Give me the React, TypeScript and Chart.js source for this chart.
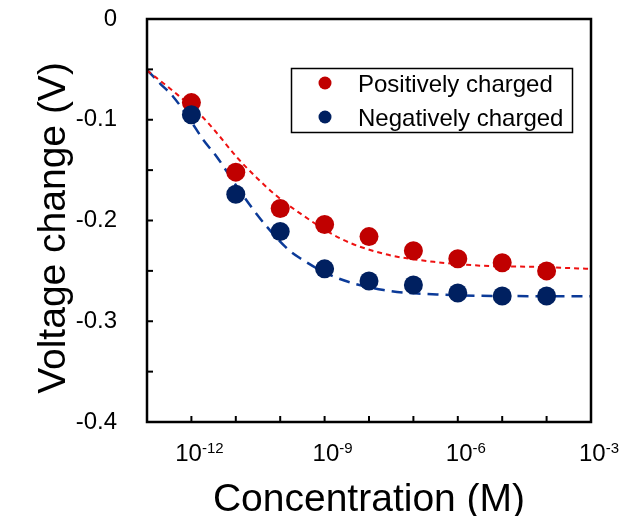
import React, { useEffect, useRef } from 'react';
import { Chart, registerables } from 'chart.js';

Chart.register(...registerables);

// ---- data ----
const concentrations = [1e-12, 1e-11, 1e-10, 1e-9, 1e-8, 1e-7, 1e-6, 1e-5, 1e-4];
const positiveValues = [-0.083, -0.152, -0.188, -0.204, -0.216, -0.230, -0.238, -0.242, -0.250];
const negativeValues = [-0.095, -0.174, -0.211, -0.248, -0.260, -0.264, -0.272, -0.275, -0.275];

// fitted curves (log10 of concentration, value)
const positiveFitExponents = [-13, -12.4, -11.8, -11.43, -10.98, -10.52, -10.07, -9.55, -8.64, -7.67, -6.54, -5.41, -4.28, -3];
const positiveFitValues = [-0.051, -0.072, -0.095, -0.113, -0.137, -0.158, -0.176, -0.193, -0.218, -0.233, -0.241, -0.245, -0.246, -0.248];
const negativeFitExponents = [-13, -12.71, -12.41, -12.03, -11.73, -11.43, -10.98, -10.6, -10.3, -9.85, -9.55, -8.79, -7.67, -6.16, -5.03, -3];
const negativeFitValues = [-0.0506, -0.0638, -0.0771, -0.1002, -0.1201, -0.1367, -0.166, -0.1896, -0.2062, -0.2276, -0.2375, -0.2558, -0.269, -0.2739, -0.2749, -0.2752];

const seriesLabels = ['Positively charged', 'Negatively charged'];
const xTickExponents = [-12, -11, -10, -9, -8, -7, -6, -5, -4];
const xLabelExponents = [-12, -9, -6, -3];
const yMinorTicks = [-0.05, -0.15, -0.25, -0.35];
const xTitle = 'Concentration (M)';
const yTitle = 'Voltage change (V)';

const FONT = "'Liberation Sans', Arial, sans-serif";
const RED = '#C00000';
const BLUE = '#002060';
const RED_LINE = '#EE1111';
const BLUE_LINE = '#0B3A98';

const decorPlugin = {
  id: 'decor',
  afterDraw(chart: any) {
    const ctx = chart.ctx as CanvasRenderingContext2D;
    const { left, right, top, bottom } = chart.chartArea;
    const xs = chart.scales.x;
    const ys = chart.scales.y;
    ctx.save();
    // frame
    ctx.strokeStyle = '#000';
    ctx.lineWidth = 2.5;
    ctx.strokeRect(left, top, right - left, bottom - top);
    // y ticks (inward)
    ctx.lineWidth = 2;
    ys.ticks.forEach((t: any) => {
      const y = ys.getPixelForValue(t.value);
      ctx.beginPath();
      ctx.moveTo(left, y);
      ctx.lineTo(left + 6, y);
      ctx.stroke();
    });
    yMinorTicks.forEach((v) => {
      const y = ys.getPixelForValue(v);
      ctx.beginPath();
      ctx.moveTo(left, y);
      ctx.lineTo(left + 6, y);
      ctx.stroke();
    });
    // x ticks (inward)
    xTickExponents.forEach((e) => {
      const x = xs.getPixelForValue(Math.pow(10, e));
      ctx.beginPath();
      ctx.moveTo(x, bottom);
      ctx.lineTo(x, bottom - 6);
      ctx.stroke();
    });
    // x tick labels with superscripts
    ctx.fillStyle = '#000';
    ctx.textBaseline = 'alphabetic';
    ctx.textAlign = 'left';
    xLabelExponents.forEach((e) => {
      const x = xs.getPixelForValue(Math.pow(10, e));
      ctx.font = `24px ${FONT}`;
      const base = '10';
      const bw = ctx.measureText(base).width;
      ctx.font = `15px ${FONT}`;
      const sup = String(e);
      const sw = ctx.measureText(sup).width;
      const start = x + 8 - (bw + sw) / 2;
      ctx.font = `24px ${FONT}`;
      ctx.fillText(base, start, 461);
      ctx.font = `15px ${FONT}`;
      ctx.fillText(sup, start + bw, 453);
    });
    // axis titles
    ctx.font = `39px ${FONT}`;
    ctx.textAlign = 'center';
    ctx.fillText(xTitle, (left + right) / 2, 511);
    ctx.save();
    ctx.translate(65, 228);
    ctx.rotate(-Math.PI / 2);
    ctx.fillText(yTitle, 0, 0);
    ctx.restore();
    // legend
    ctx.lineWidth = 1.5;
    ctx.strokeStyle = '#000';
    ctx.strokeRect(291.5, 68.5, 281, 64);
    const entries = [
      { label: seriesLabels[0], color: RED, y: 83 },
      { label: seriesLabels[1], color: BLUE, y: 117 },
    ];
    ctx.font = `24px ${FONT}`;
    ctx.textAlign = 'left';
    entries.forEach((en) => {
      ctx.fillStyle = en.color;
      ctx.beginPath();
      ctx.arc(325, en.y, 6.5, 0, Math.PI * 2);
      ctx.fill();
      ctx.fillStyle = '#000';
      ctx.fillText(en.label, 358, en.y + 8.6);
    });
    ctx.restore();
  },
};

export default function App() {
  const canvasRef = useRef<HTMLCanvasElement | null>(null);
  useEffect(() => {
    if (!canvasRef.current) return;
    const toPts = (xs: number[], ys: number[]) => xs.map((x, i) => ({ x, y: ys[i] }));
    const toFit = (es: number[], ys: number[]) => es.map((e, i) => ({ x: Math.pow(10, e), y: ys[i] }));
    const chart = new Chart(canvasRef.current, {
      type: 'scatter',
      data: {
        datasets: [
          {
            label: seriesLabels[1],
            data: toPts(concentrations, negativeValues),
            backgroundColor: BLUE,
            borderColor: BLUE,
            pointRadius: 9.5,
            pointHoverRadius: 9.5,
            pointBorderWidth: 0,
            showLine: false,
            order: 0,
          },
          {
            label: seriesLabels[0],
            data: toPts(concentrations, positiveValues),
            backgroundColor: RED,
            borderColor: RED,
            pointRadius: 9.5,
            pointHoverRadius: 9.5,
            pointBorderWidth: 0,
            showLine: false,
            order: 1,
          },
          {
            label: 'Positive fit',
            data: toFit(positiveFitExponents, positiveFitValues),
            borderColor: RED_LINE,
            borderWidth: 2,
            borderDash: [5, 4],
            pointRadius: 0,
            showLine: true,
            cubicInterpolationMode: 'monotone',
            order: 2,
          },
          {
            label: 'Negative fit',
            data: toFit(negativeFitExponents, negativeFitValues),
            borderColor: BLUE_LINE,
            borderWidth: 2.5,
            borderDash: [11, 7],
            pointRadius: 0,
            showLine: true,
            cubicInterpolationMode: 'monotone',
            order: 2,
          },
        ] as any,
      },
      options: {
        animation: false,
        responsive: false,
        devicePixelRatio: 1,
        layout: { padding: { left: 0, top: 19, right: 41, bottom: 0 } },
        plugins: { legend: { display: false }, tooltip: { enabled: false } },
        scales: {
          x: {
            type: 'logarithmic',
            min: 1e-13,
            max: 1e-3,
            grid: { display: false },
            border: { display: false },
            ticks: { display: false },
            afterFit: (s: any) => { s.height = 94; s.paddingLeft = 0; s.paddingRight = 0; },
          },
          y: {
            type: 'linear',
            min: -0.4,
            max: 0,
            grid: { display: false },
            border: { display: false },
            ticks: {
              stepSize: 0.1,
              padding: 22,
              color: '#000',
              font: { family: FONT, size: 24 },
              callback: (v: any) => (Number(v) === 0 ? '0' : Number(v).toFixed(1)),
            },
            afterFit: (s: any) => { s.width = 147; s.paddingTop = 0; s.paddingBottom = 0; },
          },
        },
      } as any,
      plugins: [decorPlugin],
    });
    return () => chart.destroy();
  }, []);
  return (
    <div style={{ position: 'absolute', left: 0, top: 0, width: 632, height: 516, background: '#fff' }}>
      <canvas ref={canvasRef} width={632} height={516} style={{ display: 'block' }} />
    </div>
  );
}
